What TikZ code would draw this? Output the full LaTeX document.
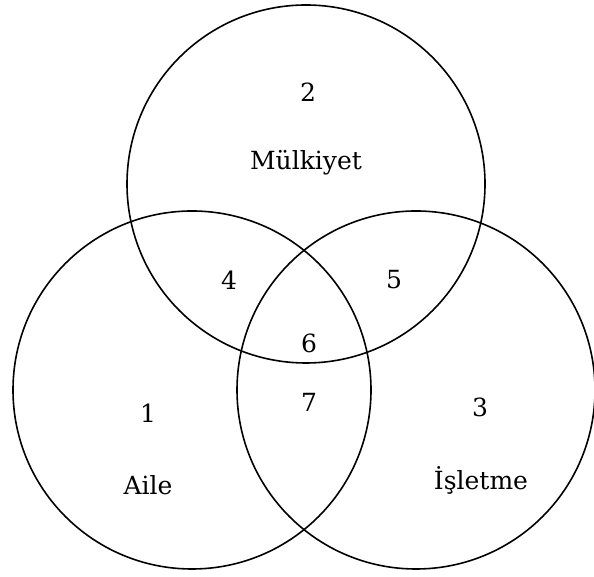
\documentclass[tikz,border=0pt]{standalone}
\usepackage{fontspec}
\setmainfont{DejaVu Serif}
\usetikzlibrary{positioning}

\begin{document}
\begin{tikzpicture}[x=0.5pt,y=0.5pt,every node/.style={font=\fontsize{12.5}{15}\selectfont},
        set/.style={line width=0.8pt}]
        \useasboundingbox (0,0) rectangle (594,577);
        \coordinate (mulk) at (306,393);
        \coordinate (aile) at (192,187);
        \coordinate (isl) at (416,187);
        \draw[set] (mulk) circle[radius=179];
        \draw[set] (aile) circle[radius=179];
        \draw[set] (isl) circle[radius=179];
        % regions
        \node (n2) at (308,485) {2};
        \node (tmulk) at (306,414) {Mülkiyet};
        \node (n4) at (229,297) {4};
        \node (n5) at (394,297) {5};
        \node (n6) at (309,234) {6};
        \node (n7) at (309,175) {7};
        \node (n1) at (148,164) {1};
        \node (taile) at (148,92) {Aile};
        \node (n3) at (480,170) {3};
        \node (tisl) at (481,97) {İşletme};
    \end{tikzpicture}
\end{document}
